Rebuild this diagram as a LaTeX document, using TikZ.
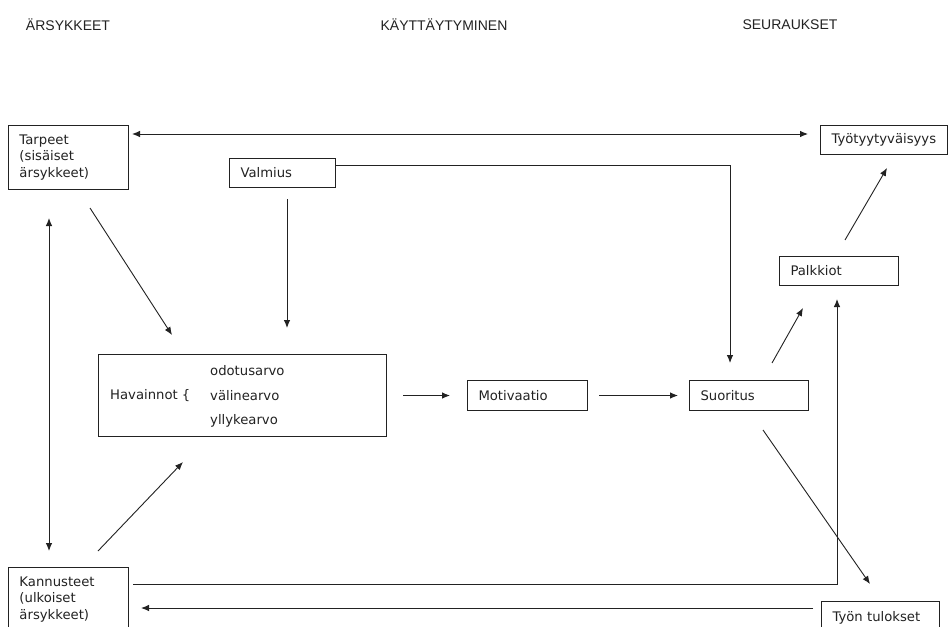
\documentclass[tikz,border=0pt]{standalone}
\usepackage{fontspec}
\setmainfont{DejaVu Sans}
\newfontfamily\headfont{Liberation Sans}
\usetikzlibrary{arrows.meta}
\definecolor{ink}{HTML}{222222}
\tikzset{
  box/.style={draw=ink, line width=1pt, anchor=north west, inner xsep=11pt, inner ysep=0pt,
    align=left, font=\fontsize{13.2}{16.5}\selectfont, text=ink},
  head/.style={font=\headfont\fontsize{14}{16}\selectfont, text=ink, inner sep=0pt},
  txt/.style={font=\fontsize{13.2}{16.5}\selectfont, text=ink, inner sep=0pt, anchor=west},
  conn/.style={draw=ink, line width=0.9pt, -{Latex[length=8pt,width=6.5pt]}},
  conn2/.style={draw=ink, line width=0.9pt, {Latex[length=8pt,width=6.5pt]}-{Latex[length=8pt,width=6.5pt]}}
}
\begin{document}
\begin{tikzpicture}[x=1pt,y=-1pt]
\useasboundingbox[fill=white] (0,0) rectangle (949,626);
% headers
\node[head] (h1) at (68,25) {ÄRSYKKEET};
\node[head] (h2) at (444,25) {KÄYTTÄYTYMINEN};
\node[head] (h3) at (790,25) {SEURAUKSET};
% boxes
\node[box, minimum width=120pt, minimum height=64pt, text width=98pt] (tarpeet) at (8,125) {Tarpeet\\(sisäiset\\ärsykkeet)};
\node[box, minimum width=106pt, minimum height=29pt, text width=84pt] (valmius) at (229,158) {Valmius};
\node[box, minimum width=127pt, minimum height=29pt, text width=105pt] (tyo) at (820,125) {Työtyytyväisyys};
\node[box, minimum width=119pt, minimum height=29pt, text width=97pt] (palkkiot) at (779,256) {Palkkiot};
\node[box, minimum width=288pt, minimum height=82pt] (havainnot) at (98,354) {};
\node[txt] (hav) at (110,396) {Havainnot \{};
\node[txt] (odotus) at (210,371) {odotusarvo};
\node[txt] (valine) at (210,396) {välinearvo};
\node[txt] (yllyke) at (210,421) {yllykearvo};
\node[box, minimum width=120pt, minimum height=30pt, text width=98pt] (motivaatio) at (467,380) {Motivaatio};
\node[box, minimum width=119pt, minimum height=30pt, text width=97pt] (suoritus) at (689,380) {Suoritus};
\node[box, minimum width=120pt, minimum height=64pt, text width=98pt] (kannusteet) at (8,567) {Kannusteet\\(ulkoiset\\ärsykkeet)};
\node[box, minimum width=118pt, minimum height=32pt, text width=96pt] (tulokset) at (821,601) {Työn tulokset};
% connectors
\draw[conn2] ([shift={(3,9)}]tarpeet.north east) -- ([shift={(-12,9)}]tyo.north west);
\draw[conn] ([shift={(0,7)}]valmius.north east) -| ([shift={(41,-17)}]suoritus.north west);
\draw[conn] ([shift={(58,11)}]valmius.south west) -- ([shift={(189,-26)}]havainnot.north west);
\draw[conn] ([shift={(82,18)}]tarpeet.south west) -- ([shift={(74,-19)}]havainnot.north west);
\draw[conn2] ([shift={(41,28)}]tarpeet.south west) -- ([shift={(41,-16)}]kannusteet.north west);
\draw[conn] ([shift={(90,-16)}]kannusteet.north west) -- ([shift={(85,25)}]havainnot.south west);
\draw[conn] ([shift={(16,0)}]havainnot.east) -- ([shift={(-17,0)}]motivaatio.west);
\draw[conn] ([shift={(11,0)}]motivaatio.east) -- ([shift={(-11,0)}]suoritus.west);
\draw[conn] ([shift={(83,-17)}]suoritus.north west) -- ([shift={(24,22)}]palkkiot.south west);
\draw[conn] ([shift={(66,-16)}]palkkiot.north west) -- ([shift={(67,13)}]tyo.south west);
\draw[conn] ([shift={(74,19)}]suoritus.south west) -- ([shift={(49,-17)}]tulokset.north west);
\draw[conn] ([shift={(4,17)}]kannusteet.north east) -| ([shift={(58,13)}]palkkiot.south west);
\draw[conn] ([shift={(-8,7)}]tulokset.north west) -- ([shift={(12,41)}]kannusteet.north east);
\end{tikzpicture}
\end{document}
